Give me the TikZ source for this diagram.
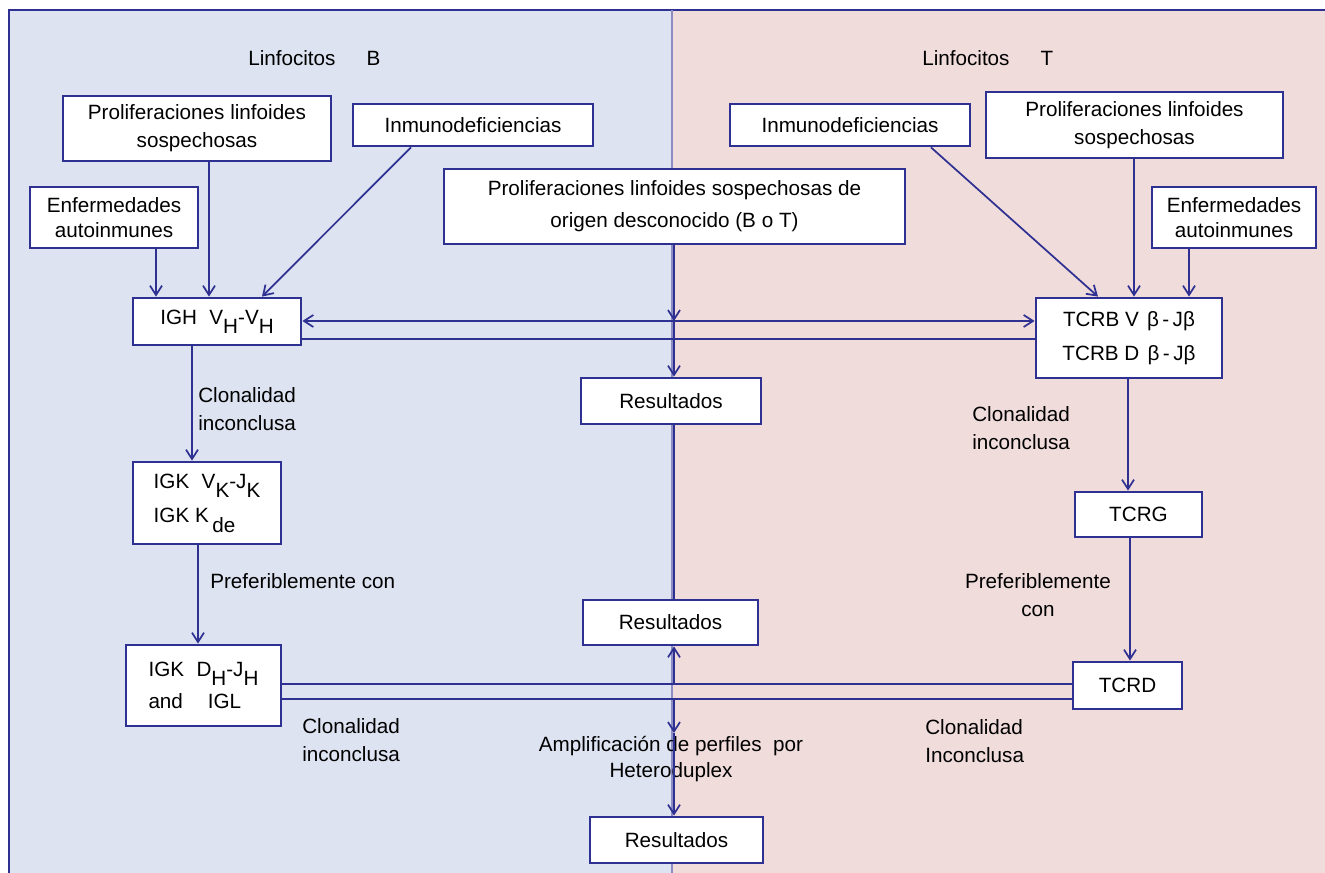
\documentclass[tikz,border=0pt]{standalone}
\usepackage{fontspec}
\setmainfont{Liberation Sans}
\usetikzlibrary{arrows.meta,calc}
\definecolor{lb}{RGB}{221,227,241}
\definecolor{pk}{RGB}{241,220,220}
\definecolor{ln}{RGB}{46,49,146}
\newcommand{\dn}[1]{\raisebox{-0.45em}{#1}}
\newcommand{\bx}[7]{\node[box,#1,minimum width={(#5-#3)*0.75pt},minimum height={(#6-#4)*0.75pt}] (#2) at ({(#3+#5)/2},{(#4+#6)/2}) {#7};}
\begin{document}
\begin{tikzpicture}[x=0.75pt,y=-0.75pt,
 box/.style={draw=ln,line width=2.1pt,fill=white,inner sep=0pt,align=center,font=\fontsize{15.5}{21}\selectfont},
 lab/.style={inner sep=0pt,font=\fontsize{15.5}{21}\selectfont},
 con/.style={draw=ln,line width=1.3pt},
 arr/.style={con,-{Straight Barb[length=7pt,width=9pt]}},
 darr/.style={con,{Straight Barb[length=7pt,width=9pt]}-{Straight Barb[length=7pt,width=9pt]}},
]
\useasboundingbox (0,0) rectangle (1325,873);
\fill[white] (0,0) rectangle (1325,873);
\fill[lb] (9,10) rectangle (673,873);
\fill[pk] (673,10) rectangle (1325,873);
\draw[ln,line width=1.2pt] (9,873) -- (9,10) -- (1325,10);
\draw[ln!55,line width=0.8pt] (672,10) -- (672,873);

% headings
\node[lab,anchor=west] (hb) at (248,58) {Linfocitos\hspace{1.5em}B};
\node[lab,anchor=west] (ht) at (922,58) {Linfocitos\hspace{1.5em}T};

% top boxes
\bx{}{prolL}{63}{96}{331}{161}{Proliferaciones linfoides\\sospechosas}
\bx{}{inmL}{353}{104}{593}{146}{Inmunodeficiencias}
\bx{font=\fontsize{15.5}{19}\selectfont}{enfL}{30}{187}{198}{248}{Enfermedades\\autoinmunes}
\bx{font=\fontsize{15.5}{24}\selectfont}{cprol}{444}{169}{905}{244}{Proliferaciones linfoides sospechosas de\\origen desconocido (B o T)}
\bx{}{inmR}{730}{104}{970}{146}{Inmunodeficiencias}
\bx{}{prolR}{986}{92}{1283}{158}{Proliferaciones linfoides\\sospechosas}
\bx{font=\fontsize{15.5}{19}\selectfont}{enfR}{1152}{187}{1316}{248}{Enfermedades\\autoinmunes}

% main boxes
\bx{}{igh}{133}{298}{301}{345}{IGH\hspace{0.6em}V\dn{H}-V\dn{H}}
\bx{font=\fontsize{15.5}{26}\selectfont}{tcrb}{1036}{298}{1222}{378}{TCRB V\hspace{0.4em}β\,-\,Jβ\\TCRB D\hspace{0.4em}β\,-\,Jβ}
\bx{}{res1}{581}{378}{761}{424}{Resultados}
\bx{align=left,font=\fontsize{15.5}{26}\selectfont}{igk}{133}{462}{281}{544}{IGK\hspace{0.6em}V\dn{K}-J\dn{K}\\IGK K\,\dn{de}}
\bx{}{tcrg}{1075}{492}{1202}{537}{TCRG}
\bx{}{res2}{583}{600}{758}{645}{Resultados}
\bx{align=left,font=\fontsize{15.5}{24}\selectfont}{igkd}{126}{645}{281}{726}{IGK\hspace{0.6em}D\dn{H}-J\dn{H}\\and\hspace{1.2em}IGL}
\bx{}{tcrd}{1073}{662}{1182}{709}{TCRD}
\bx{}{res3}{590}{817}{763}{863}{Resultados}

% labels
\node[lab,anchor=west,align=left] (l1) at (198,409) {Clonalidad\\inconclusa};
\node[lab,anchor=west] (l2) at (210,581) {Preferiblemente con};
\node[lab,anchor=west,align=left] (l3) at (302,740) {Clonalidad\\inconclusa};
\node[lab,anchor=west,align=left] (r1) at (972,428) {Clonalidad\\inconclusa};
\node[lab,align=center] (r2) at (1038,595) {Preferiblemente\\con};
\node[lab,anchor=west,align=left] (r3) at (925,741) {Clonalidad\\Inconclusa};
\node[lab,align=center,font=\fontsize{15.5}{20}\selectfont] (amp) at (671,759) {Amplificación de perfiles\ \ por\\Heteroduplex};

% coordinates
\coordinate (c1) at (674,321);
\coordinate (c2) at (674,684);
\coordinate (c3) at (674,699);
\coordinate (c4) at (674,733);

% connectors to IGH
\draw[arr] (156,0 |- enfL.south) -- (156,0 |- igh.north);
\draw[arr] (209,0 |- prolL.south) -- (209,0 |- igh.north);
\draw[arr] (411,0 |- inmL.south) -- (262,0 |- igh.north);
% connectors to TCRB
\draw[arr] (931,0 |- inmR.south) -- (1098,0 |- tcrb.north);
\draw[arr] (1134,0 |- prolR.south) -- (1134,0 |- tcrb.north);
\draw[arr] (1189,0 |- enfR.south) -- (1189,0 |- tcrb.north);
% horizontal links
\draw[darr] (igh.east |- c1) -- (tcrb.west |- c1);
\draw[con] (igh.east |- 0,339) -- (tcrb.west |- 0,339);
\draw[con] (igkd.east |- c2) -- (tcrd.west |- c2);
\draw[con] (igkd.east |- c3) -- (tcrd.west |- c3);
% center column
\draw[arr] (cprol.south -| c1) -- (c1);
\draw[arr] (c1) -- (res1.north -| c1);
\draw[con] (res1.south -| c1) -- (res2.north -| c1);
\draw[arr] (c2) -- (res2.south -| c2);
\draw[arr] (c3) -- (c4);
\draw[arr] (c4) -- (res3.north -| c4);
% B chain
\draw[arr] (192,0 |- igh.south) -- (192,0 |- igk.north);
\draw[arr] (198,0 |- igk.south) -- (198,0 |- igkd.north);
% T chain
\draw[arr] (1128,0 |- tcrb.south) -- (1128,0 |- tcrg.north);
\draw[arr] (1130,0 |- tcrg.south) -- (1130,0 |- tcrd.north);
\end{tikzpicture}
\end{document}
